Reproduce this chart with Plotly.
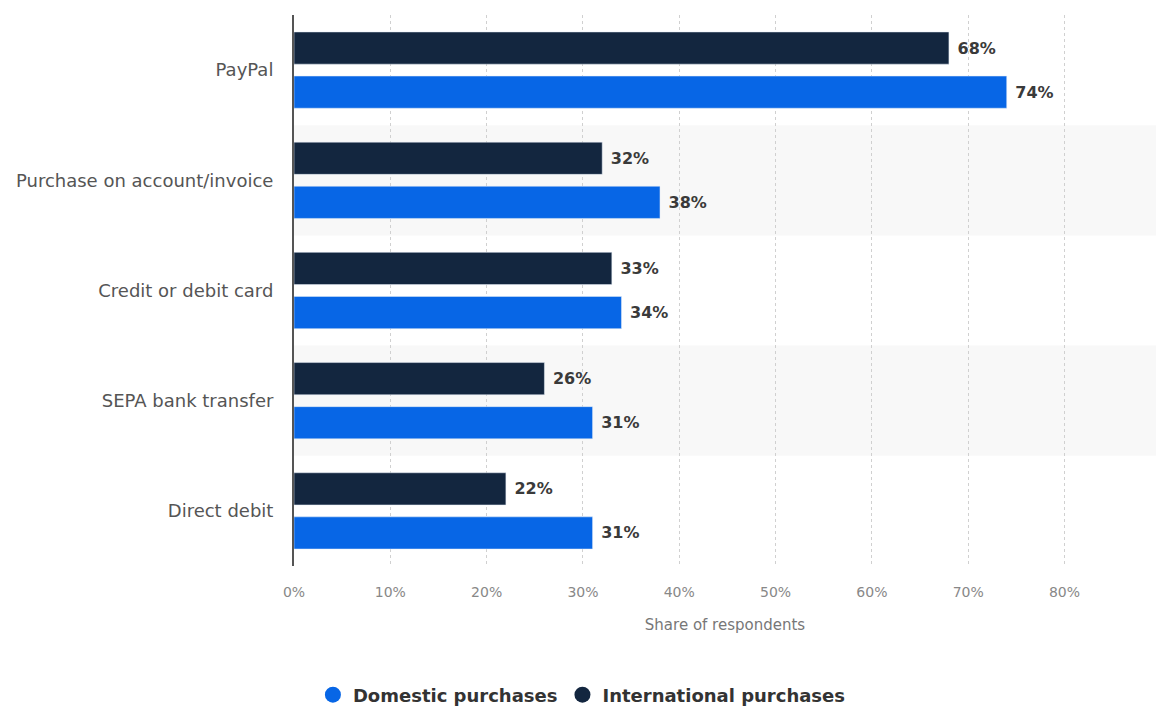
import plotly.graph_objects as go

categories = ["PayPal", "Purchase on account/invoice", "Credit or debit card", "SEPA bank transfer", "Direct debit"]
domestic = [74, 38, 34, 31, 31]
international = [68, 32, 33, 26, 22]
tick_values = [0, 10, 20, 30, 40, 50, 60, 70, 80]

navy = "#13263f"
blue = "#0766e6"
FONT = "DejaVu Sans, sans-serif"

fig = go.Figure()
fig.add_trace(go.Bar(
    y=categories, x=international, orientation="h", name="International purchases",
    marker=dict(color=navy), showlegend=False,
    text=[f"\u00a0{v}%" for v in international], textposition="outside",
    textfont=dict(family=FONT, size=16, color="#3a3a3a", weight="bold"),
    cliponaxis=False,
))
fig.add_trace(go.Bar(
    y=categories, x=domestic, orientation="h", name="Domestic purchases",
    marker=dict(color=blue), showlegend=False,
    text=[f"\u00a0{v}%" for v in domestic], textposition="outside",
    textfont=dict(family=FONT, size=16, color="#3a3a3a", weight="bold"),
    cliponaxis=False,
))
# legend entries with round markers
fig.add_trace(go.Scatter(x=[None], y=[None], mode="markers", name="Domestic purchases",
                         marker=dict(color=blue, size=19, symbol="circle"), legendrank=1))
fig.add_trace(go.Scatter(x=[None], y=[None], mode="markers", name="International purchases",
                         marker=dict(color=navy, size=19, symbol="circle"), legendrank=2))

shapes = []
for i, c in enumerate(categories):
    if i % 2 == 1:
        shapes.append(dict(type="rect", xref="paper", yref="y", x0=0, x1=1,
                           y0=i - 0.5, y1=i + 0.5, fillcolor="#f8f8f8",
                           line=dict(width=0), layer="below"))

fig.update_layout(
    width=1156, height=708,
    margin=dict(l=294, r=0, t=15, b=142, autoexpand=False),
    plot_bgcolor="white", paper_bgcolor="white",
    barmode="group", bargap=0.2, bargroupgap=0.27,
    shapes=shapes,
    showlegend=True,
    legend=dict(orientation="h", x=0.334, xanchor="center", y=-0.234, yanchor="middle",
                font=dict(family=FONT, size=18, color="#333333", weight="bold"),
                itemsizing="trace"),
    xaxis=dict(range=[0, 89.5], tickvals=tick_values,
               ticktext=[f"{v}%" for v in tick_values],
               showgrid=True, gridcolor="#d0d0d0", griddash="dot", gridwidth=1,
               zeroline=False, showline=False,
               tickfont=dict(family=FONT, size=14, color="#888888"),
               ticklabelstandoff=16,
               title=dict(text="Share of respondents", standoff=20,
                          font=dict(family=FONT, size=15, color="#777777"))),
    yaxis=dict(categoryorder="array", categoryarray=categories, autorange="reversed",
               showline=True, linecolor="#555555", linewidth=2, showgrid=False,
               ticks="", ticklabelstandoff=15,
               tickfont=dict(family=FONT, size=18, color="#555555")),
)

fig.write_html("out.html")
